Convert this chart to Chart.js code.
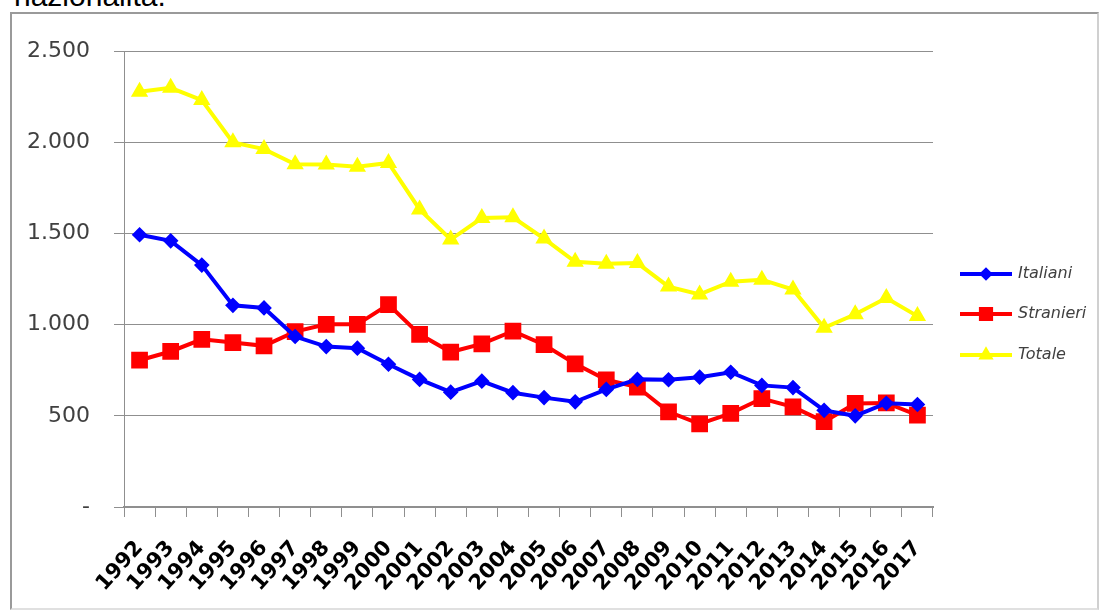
<!DOCTYPE html>
<html>
<head>
<meta charset="utf-8">
<script src="https://cdn.jsdelivr.net/npm/chart.js@4/dist/chart.umd.min.js"></script>
<style>
  html, body { margin: 0; padding: 0; background: #fff; overflow: hidden; }
  body { width: 1099px; height: 610px; position: relative; }
  #caption {
    position: absolute; left: 14px; top: -19px;
    font: 30px "Liberation Sans", Arial, sans-serif; line-height: 30px; color: #000;
  }
  #frame {
    position: absolute; left: 10px; top: 12px; width: 1085px; height: 594px;
    border: 2px solid #9a9a9a; border-bottom-color: #e0e0e0; border-right-color: #d0d0d0;
  }
  #wrap { position: absolute; left: 12px; top: 14px; width: 1083px; height: 592px; }
</style>
</head>
<body>
<div id="caption">nazionalità.</div>
<div id="frame"></div>
<div id="wrap"><canvas id="chart"></canvas></div>
<script>
// anni
const anni = ['1992','1993','1994','1995','1996','1997','1998','1999','2000','2001','2002','2003','2004',
              '2005','2006','2007','2008','2009','2010','2011','2012','2013','2014','2015','2016','2017'];

// valori
const italiani  = [1493, 1460, 1327, 1106, 1092, 935, 880, 871, 783, 700, 630, 690, 627,
                   600, 577, 645, 700, 698, 712, 739, 667, 655, 530, 500, 569, 562];
const stranieri = [805, 853, 920, 902, 884, 962, 1002, 1002, 1110, 947, 850, 895, 965,
                   890, 785, 698, 658, 522, 456, 514, 595, 549, 468, 568, 571, 504];
const totale    = [2278, 2299, 2232, 2000, 1963, 1880, 1878, 1866, 1887, 1632, 1467, 1585, 1589,
                   1472, 1345, 1334, 1338, 1209, 1166, 1236, 1247, 1193, 983, 1057, 1146, 1047];

const yTicks = [0, 500, 1000, 1500, 2000, 2500];

function formatIt(v) {
    if (v === 0) return '-';
    return String(v).replace(/\B(?=(\d{3})+(?!\d))/g, '.');
}

// legenda disegnata a mano (linea + marcatore + testo corsivo)
const legendaExcel = {
    id: 'legendaExcel',
    afterDraw(chart) {
        const ctx = chart.ctx;
        const x0 = 948, x1 = 1000;
        const rows = [260, 300, 341];
        chart.data.datasets.forEach((ds, i) => {
            const y = rows[i];
            ctx.save();
            ctx.strokeStyle = ds.borderColor;
            ctx.lineWidth = 4;
            ctx.beginPath();
            ctx.moveTo(x0, y);
            ctx.lineTo(x1, y);
            ctx.stroke();
            ctx.fillStyle = ds.borderColor;
            Chart.helpers.drawPoint(ctx, {
                pointStyle: ds.pointStyle,
                radius: ds.pointRadius * 0.8,
                borderWidth: 1
            }, (x0 + x1) / 2, y);
            ctx.restore();
            ctx.save();
            ctx.font = 'italic 16px "DejaVu Sans", sans-serif';
            ctx.fillStyle = '#404040';
            ctx.textBaseline = 'middle';
            ctx.fillText(ds.label, x1 + 6, y);
            ctx.restore();
        });
    }
};

const ctx = document.getElementById('chart').getContext('2d');
new Chart(ctx, {
    type: 'line',
    data: {
        labels: anni,
        datasets: [{
            label: 'Italiani',
            data: italiani,
            borderColor: '#0000FF',
            backgroundColor: '#0000FF',
            pointBackgroundColor: '#0000FF',
            pointStyle: 'rectRot',
            pointRadius: 5,
            borderWidth: 4
        }, {
            label: 'Stranieri',
            data: stranieri,
            borderColor: '#FF0000',
            backgroundColor: '#FF0000',
            pointBackgroundColor: '#FF0000',
            pointStyle: 'rect',
            pointRadius: 9,
            borderWidth: 4
        }, {
            label: 'Totale',
            data: totale,
            borderColor: '#FFFF00',
            backgroundColor: '#FFFF00',
            pointBackgroundColor: '#FFFF00',
            pointStyle: 'triangle',
            pointRadius: 6,
            borderWidth: 4
        }]
    },
    options: {
        responsive: true,
        maintainAspectRatio: false,
        animation: false,
        layout: { padding: { top: 34, right: 162, bottom: 0, left: 0 } },
        elements: { line: { tension: 0 } },
        plugins: {
            legend: { display: false },
            tooltip: { enabled: false }
        },
        scales: {
            x: {
                offset: true,
                grid: {
                    offset: true,
                    drawOnChartArea: false,
                    drawTicks: true,
                    tickLength: 10,
                    color: '#8f8f8f'
                },
                border: { display: true, color: '#8f8f8f', width: 2 },
                ticks: {
                    autoSkip: false,
                    minRotation: 48,
                    maxRotation: 48,
                    padding: 19,
                    color: '#000',
                    font: { family: '"DejaVu Sans", sans-serif', size: 21, weight: 'bold' }
                },
                afterFit(scale) { scale.height = 99; }
            },
            y: {
                min: 0,
                max: 2500,
                afterBuildTicks(scale) { scale.ticks = yTicks.map(v => ({ value: v })); },
                grid: { color: '#8f8f8f', lineWidth: 1, tickLength: 10 },
                border: { display: true, color: '#8f8f8f', width: 1 },
                ticks: {
                    padding: 24,
                    color: '#404040',
                    font: { family: '"DejaVu Sans", sans-serif', size: 22 },
                    callback: v => formatIt(v)
                },
                afterFit(scale) { scale.width = 112; }
            }
        }
    },
    plugins: [legendaExcel]
});
</script>
</body>
</html>
